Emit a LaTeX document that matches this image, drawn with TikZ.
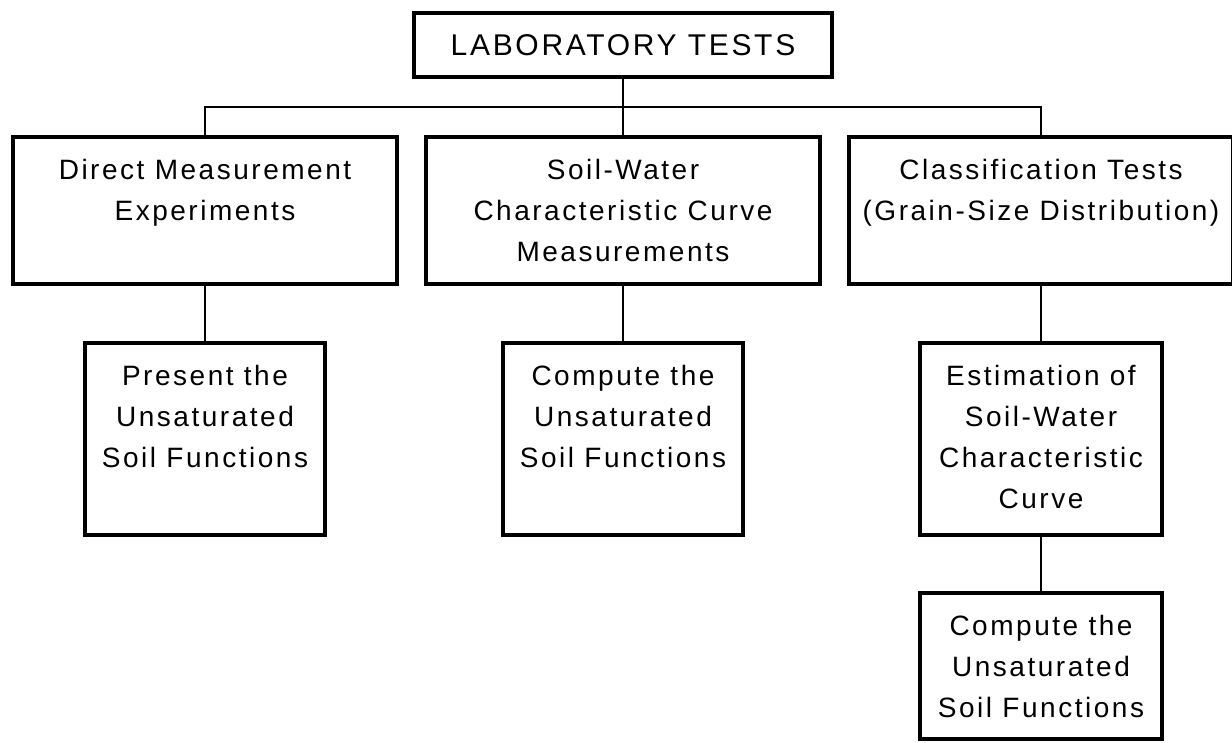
\documentclass[tikz,border=0pt]{standalone}
\usepackage{fontspec}
\setmainfont{Liberation Sans}[LetterSpace=9]
\begin{document}
\begin{tikzpicture}[x=1pt,y=-1pt,
  box/.style={draw, line width=4pt, rectangle, inner sep=0pt},
  conn/.style={line width=2pt},
  txt/.style={inner sep=0pt, align=center, font=\fontsize{28}{41}\selectfont}]
\clip (0,0) rectangle (1232,743);
\fill[white] (0,0) rectangle (1232,743);
% top
\node[box, minimum width=418pt, minimum height=64pt, font=\fontsize{30}{41}\selectfont] (top) at (623,45) {LABORATORY TESTS};
% upper row
\node[box, minimum width=384pt, minimum height=147pt] (uleft) at (205,210.5) {};
\node[box, minimum width=394pt, minimum height=147pt] (umid) at (623,210.5) {};
\node[box, minimum width=384pt, minimum height=147pt] (uright) at (1041,210.5) {};
% lower row
\node[box, minimum width=240pt, minimum height=192pt] (lleft) at (205,439) {};
\node[box, minimum width=240pt, minimum height=192pt] (lmid) at (623,439) {};
\node[box, minimum width=242pt, minimum height=192pt] (lright) at (1041,439) {};
\node[box, minimum width=242pt, minimum height=146pt] (bright) at (1041,666) {};
% texts
\node[txt, below=24pt] (tuleft) at (uleft.north) {Direct Measurement\\Experiments};
\node[txt, below=24pt] (tumid) at (umid.north) {Soil-Water\\Characteristic Curve\\Measurements};
\node[txt, below=24pt] (turight) at (uright.north) {Classification Tests\\(Grain-Size Distribution)};
\node[txt, below=24pt] (tlleft) at (lleft.north) {Present the\\Unsaturated\\Soil Functions};
\node[txt, below=24pt] (tlmid) at (lmid.north) {Compute the\\Unsaturated\\Soil Functions};
\node[txt, below=24pt] (tlright) at (lright.north) {Estimation of\\Soil-Water\\Characteristic\\Curve};
\node[txt, below=24pt] (tbright) at (bright.north) {Compute the\\Unsaturated\\Soil Functions};
% connectors
\coordinate (bar) at (623,107);
\draw[conn] (top) -- (umid);
\draw[conn] (uleft.north) |- (bar) -| (uright.north);
\draw[conn] (uleft) -- (lleft);
\draw[conn] (umid) -- (lmid);
\draw[conn] (uright) -- (lright);
\draw[conn] (lright) -- (bright);
\end{tikzpicture}
\end{document}
